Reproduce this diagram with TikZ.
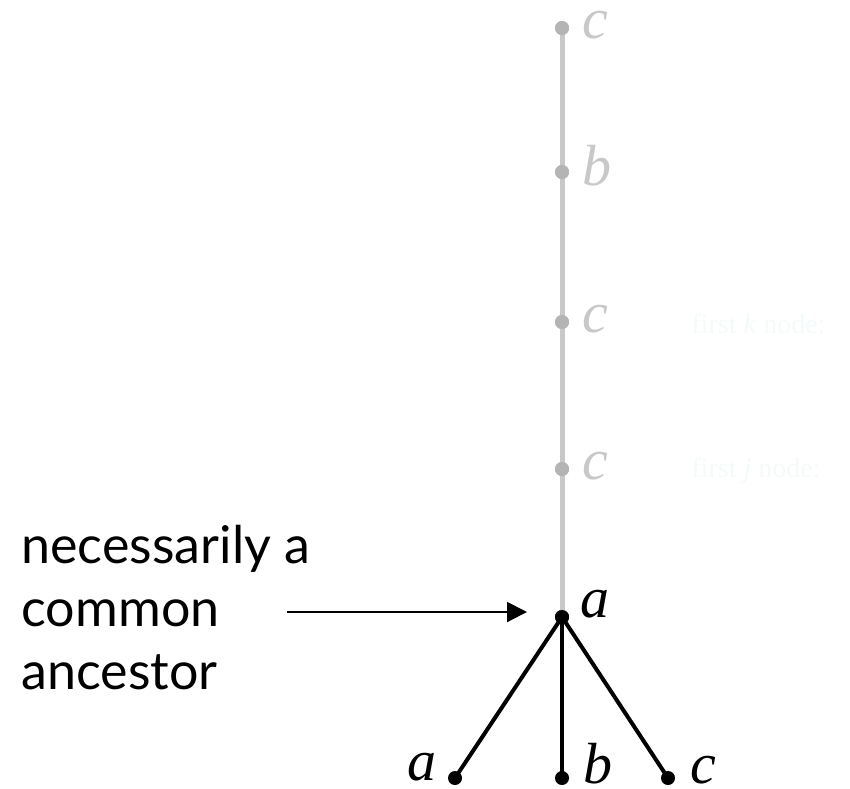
\documentclass[tikz,border=0pt]{standalone}
\usepackage{fontspec}
\setmainfont{Liberation Serif}
\setsansfont{Lato}
\usetikzlibrary{arrows.meta, positioning}
\definecolor{cghost}{HTML}{C8C8C8}
\definecolor{cghostdot}{HTML}{B4B4B4}
\definecolor{cfaint}{HTML}{F4FAFA}
\tikzset{
  every picture/.style={line width=3pt},
  dot/.style={circle, fill=#1, inner sep=0pt, minimum size=14pt},
  dot/.default=black,
  letter/.style={font=\fontsize{58}{58}\selectfont\itshape, text=#1, inner sep=0pt},
  letter/.default=black,
  spine/.style={draw=cghost, line width=5pt},
  branch/.style={draw=black, line width=4pt},
  arrow/.style={-{Triangle[length=20pt, width=20pt]}, draw=black, line width=2pt},
  note/.style={font=\sffamily\fontsize{52}{63}\selectfont, align=left, inner sep=0pt},
  faint/.style={font=\fontsize{28}{28}\selectfont, text=cfaint, anchor=west, inner sep=0pt},
}

\begin{document}
\begin{tikzpicture}[x=1pt, y=-1pt]
  \useasboundingbox (0,0) rectangle (850,788);
  % ghosted path up the tree
  \node[dot=cghostdot] (g4) at (562,28) {};
  \node[dot=cghostdot] (g3) at (562,172) {};
  \node[dot=cghostdot] (g2) at (562,322) {};
  \node[dot=cghostdot] (g1) at (562,469) {};
  \node[dot] (top) at (562,617) {};
  \draw[spine] (top.center) -- (g1.center) -- (g2.center) -- (g3.center) -- (g4.center);
  \node[dot=cghostdot] at (g4) {};
  \node[dot=cghostdot] at (g3) {};
  \node[dot=cghostdot] at (g2) {};
  \node[dot=cghostdot] at (g1) {};
  \node[letter=cghost, anchor=base west] (lg4) at ([xshift=19pt, yshift=-10pt]g4.center) {c};
  \node[letter=cghost, anchor=base west] (lg3) at ([xshift=19pt, yshift=-13pt]g3.center) {b};
  \node[letter=cghost, anchor=base west] (lg2) at ([xshift=19pt, yshift=-10pt]g2.center) {c};
  \node[letter=cghost, anchor=base west] (lg1) at ([xshift=19pt, yshift=-10pt]g1.center) {c};
  \node[faint] (f2) at (690,324) {first \textit{k} node:};
  \node[faint] (f1) at (690,471) {first \textit{j} node:};
  % the three leaves
  \node[dot] (la) at (455,778) {};
  \node[dot] (lb) at (562,778) {};
  \node[dot] (lc) at (668,778) {};
  \draw[branch] (top.center) -- (la.center);
  \draw[branch] (top.center) -- (lb.center);
  \draw[branch] (top.center) -- (lc.center);
  \node[dot] at (top) {};
  \node[letter, anchor=base west] (ltop) at ([xshift=17pt]top.center) {a};
  \node[letter, anchor=base east] (lla) at ([xshift=-17pt, yshift=-2pt]la.center) {a};
  \node[letter, anchor=base west] (llb) at ([xshift=20pt, yshift=-5pt]lb.center) {b};
  \node[letter, anchor=base west] (llc) at ([xshift=21pt, yshift=-5pt]lc.center) {c};
  % label and arrow
  \node[note, anchor=north west] (txt) at (20,524) {necessarily a\\common\\ancestor};
  \coordinate (tail) at (287,612);
  \coordinate (head) at (527,612);
  \draw[arrow] (tail) -- (head);
\end{tikzpicture}
\end{document}
